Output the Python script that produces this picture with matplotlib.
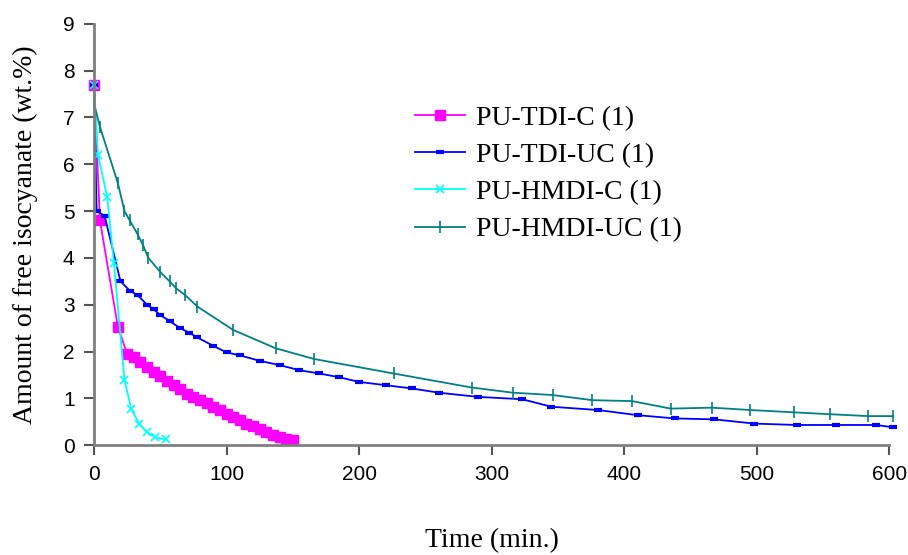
import matplotlib
matplotlib.use("Agg")
import matplotlib.pyplot as plt

# Data
t_tdi_c = [0, 4.5, 18, 25, 30, 35, 40, 45, 50, 55, 60, 65, 70, 75, 80, 85, 90, 95,
           100, 105, 110, 115, 120, 125, 130, 135, 140, 145, 150]
y_tdi_c = [7.7, 4.8, 2.53, 1.95, 1.88, 1.78, 1.67, 1.57, 1.48, 1.38, 1.28, 1.19, 1.10,
           1.03, 0.96, 0.89, 0.82, 0.75, 0.67, 0.60, 0.53, 0.46, 0.40, 0.34, 0.28,
           0.22, 0.17, 0.13, 0.10]

t_tdi_uc = [0, 2, 8, 20, 27, 33, 40, 45, 50, 57, 65, 72, 78, 90, 100, 110, 125, 140,
            155, 170, 185, 200, 220, 240, 260, 290, 323, 345, 380, 410, 438, 468, 498,
            530, 560, 590, 603]
y_tdi_uc = [7.7, 5.0, 4.9, 3.5, 3.3, 3.2, 3.0, 2.9, 2.78, 2.65, 2.5, 2.4, 2.3, 2.12,
            1.98, 1.92, 1.8, 1.71, 1.6, 1.53, 1.45, 1.35, 1.28, 1.21, 1.12, 1.03, 0.98,
            0.82, 0.75, 0.64, 0.57, 0.55, 0.46, 0.43, 0.43, 0.43, 0.38]

t_hmdi_c = [0, 3, 10, 15, 23, 28, 34, 40, 46, 54]
y_hmdi_c = [7.7, 6.2, 5.3, 3.9, 1.4, 0.78, 0.46, 0.28, 0.17, 0.12]

t_hmdi_uc = [0, 4.5, 18, 23, 27, 33, 37, 41, 50, 57, 62, 69, 78, 105, 137, 166, 226,
             285, 316, 346, 376, 406, 435, 466, 495, 528, 555, 584, 603]
y_hmdi_uc = [7.3, 6.8, 5.6, 5.0, 4.8, 4.5, 4.27, 4.0, 3.7, 3.5, 3.35, 3.2, 2.96, 2.46,
             2.07, 1.84, 1.53, 1.23, 1.12, 1.07, 0.96, 0.94, 0.78, 0.8, 0.75, 0.7, 0.66,
             0.62, 0.62]

serif = ["Liberation Serif", "DejaVu Serif"]
sans = ["Liberation Sans", "DejaVu Sans"]

fig = plt.figure(figsize=(9.08, 5.55), dpi=100)
ax = fig.add_axes([0.1035, 0.198, 0.876, 0.759])

ax.plot(t_tdi_c, y_tdi_c, color="#FF00FF", lw=1.3, marker="s", ms=7, mec="#FF00FF",
        label="PU-TDI-C (1)", clip_on=False)
ax.plot(t_tdi_uc, y_tdi_uc, color="#0000FF", lw=1.3, marker="_", ms=6, mew=3,
        label="PU-TDI-UC (1)", clip_on=False)
ax.plot(t_hmdi_c, y_hmdi_c, color="#00FFFF", lw=1.3, marker="x", ms=6, mew=1.2,
        label="PU-HMDI-C (1)", clip_on=False)
ax.plot(t_hmdi_uc, y_hmdi_uc, color="#008080", lw=1.3, marker="|", ms=9, mew=1.2,
        label="PU-HMDI-UC (1)", clip_on=False)

ax.set_xlim(0, 600)
ax.set_ylim(0, 9)
ax.set_xticks(range(0, 601, 100))
ax.set_yticks(range(0, 10))

for side in ["top", "right"]:
    ax.spines[side].set_visible(False)
for side in ["left", "bottom"]:
    ax.spines[side].set_color("#7f7f7f")
    ax.spines[side].set_linewidth(2)

ax.tick_params(axis="both", direction="out", length=7, width=1.5, color="#555555",
               labelsize=15)
ax.tick_params(axis="x", pad=7)
ax.tick_params(axis="y", pad=7)
for lab in ax.get_xticklabels() + ax.get_yticklabels():
    lab.set_family(sans)

ax.set_xlabel("Time (min.)", family=serif, fontsize=20, labelpad=32)
ax.set_ylabel("Amount of free isocyanate (wt.%)", family=serif, fontsize=20, labelpad=18)

ax.legend(loc="upper left", bbox_to_anchor=(0.457, 0.81), bbox_transform=fig.transFigure,
          frameon=False, prop={"family": serif, "size": 20}, handlelength=1.8,
          labelspacing=0.42, handletextpad=0.4, borderpad=0, borderaxespad=0)

fig.savefig("out.png", dpi=100)
